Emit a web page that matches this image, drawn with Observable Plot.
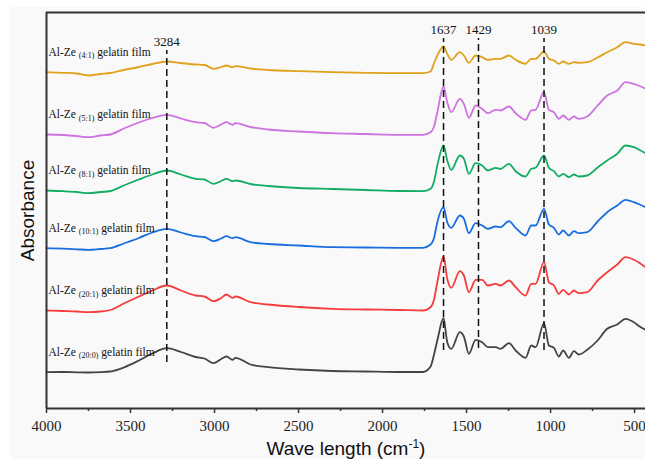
<!DOCTYPE html>
<html>
<head>
<meta charset="utf-8">
<script src="https://cdn.jsdelivr.net/npm/d3@7"></script>
<script src="https://cdn.jsdelivr.net/npm/@observablehq/plot@0.6"></script>
<style>
  html, body { margin: 0; padding: 0; background: #ffffff; }
  #wrap { position: relative; width: 645px; height: 459px; overflow: hidden; }
  #bg { position: absolute; left: 10px; top: 7px; right: 0; bottom: 0; background: #f9f9f9; }
  #chart { position: absolute; left: 0; top: 0; }
</style>
</head>
<body>
<div id="wrap"><div id="bg"></div><div id="chart"></div></div>
<script>
// ---- Data (absorbance, arbitrary units, series already offset as in the figure) ----
const waves = [4000, 3900, 3820, 3750, 3680, 3620, 3540, 3450, 3370, 3284, 3200, 3113, 3060, 3006, 2960, 2929, 2893, 2875, 2786, 2680, 2500, 2300, 2100, 1900, 1760,
  1714, 1695, 1674, 1637, 1615, 1591, 1540, 1516, 1486, 1446, 1407, 1373, 1327, 1298, 1248, 1208, 1149, 1115, 1089, 1039, 1010, 980, 951, 925, 891, 861, 832, 782, 720, 663, 603, 554, 504, 470, 435];

const film41 = [336.3, 335.7, 335.0, 333.0, 334.5, 335.5, 338.5, 341.5, 344.5, 347.0, 345.5, 344.0, 343.5, 339.7, 341.5, 343.0, 341.3, 342.3, 340.0, 338.5, 337.3, 336.3, 335.7, 335.3, 335.3,
  337.0, 344.7, 353.0, 362.0, 354.7, 348.7, 356.3, 353.0, 345.7, 353.0, 351.3, 348.7, 349.7, 349.7, 353.0, 348.7, 344.7, 349.7, 349.7, 357.0, 349.7, 348.0, 344.7, 347.0, 344.7, 346.3, 345.7, 346.3, 351.0, 356.3, 361.3, 366.3, 364.7, 364.0, 363.0];
const film51 = [274.0, 273.5, 272.5, 271.3, 273.0, 274.0, 280.0, 286.0, 290.5, 293.7, 290.0, 286.3, 285.5, 280.7, 284.0, 286.3, 283.7, 285.3, 281.5, 279.0, 277.0, 275.3, 274.5, 273.7, 273.7,
  276.3, 281.3, 296.3, 322.0, 306.3, 296.3, 309.7, 304.7, 290.7, 303.0, 299.7, 295.3, 298.7, 298.0, 302.0, 295.3, 288.7, 298.0, 298.7, 316.3, 298.7, 296.3, 289.7, 293.0, 288.7, 292.0, 289.7, 292.0, 303.0, 313.0, 318.0, 326.3, 324.7, 322.5, 319.7];
const film81 = [218.0, 217.3, 216.5, 215.3, 216.5, 217.5, 223.0, 229.0, 234.0, 238.0, 234.0, 229.7, 229.0, 224.7, 227.5, 229.7, 227.3, 228.0, 224.5, 222.5, 220.5, 219.5, 218.5, 217.5, 217.3,
  219.7, 226.3, 243.0, 263.0, 248.0, 238.7, 253.0, 249.7, 234.7, 245.3, 243.0, 238.0, 240.7, 239.7, 244.7, 237.3, 232.0, 239.7, 240.7, 253.0, 240.7, 237.3, 232.0, 234.7, 231.3, 234.0, 232.0, 233.0, 241.0, 248.0, 254.7, 263.0, 261.3, 258.5, 255.3];
const film101 = [160.3, 159.8, 159.2, 158.7, 159.5, 160.3, 165.0, 170.5, 176.0, 179.7, 176.0, 172.3, 171.5, 167.3, 170.0, 172.3, 170.3, 171.3, 166.3, 164.5, 163.0, 161.3, 161.0, 160.7, 160.7,
  164.0, 169.7, 186.3, 201.3, 186.3, 180.7, 193.0, 189.7, 175.3, 185.3, 183.0, 179.7, 182.0, 181.3, 187.3, 180.7, 173.0, 183.0, 183.0, 199.7, 184.0, 180.7, 174.0, 178.0, 173.0, 177.3, 175.3, 176.3, 187.0, 196.3, 203.0, 208.7, 206.3, 204.0, 201.3];
const film201 = [98.0, 97.5, 97.0, 96.3, 97.0, 98.5, 105.0, 112.0, 118.0, 123.0, 118.0, 113.0, 112.0, 107.3, 110.5, 114.0, 110.7, 112.0, 106.3, 104.0, 101.5, 99.7, 99.0, 98.5, 98.0,
  101.3, 108.0, 126.3, 152.0, 129.7, 120.7, 137.3, 133.0, 116.3, 128.7, 128.7, 123.0, 124.7, 123.0, 128.0, 121.3, 113.0, 124.7, 124.7, 146.3, 126.3, 123.0, 114.7, 118.7, 114.0, 118.0, 115.3, 116.3, 128.0, 136.3, 144.0, 151.3, 148.7, 145.5, 141.3];
const film200 = [36.3, 36.5, 36.2, 36.0, 36.3, 37.0, 41.0, 48.0, 55.0, 60.3, 56.5, 51.5, 50.0, 45.3, 49.5, 52.0, 48.7, 50.7, 44.0, 41.3, 39.0, 37.5, 37.0, 36.5, 36.5,
  42.0, 53.0, 68.0, 90.5, 66.3, 59.7, 76.3, 72.0, 54.7, 68.7, 66.3, 61.3, 61.3, 59.7, 65.3, 58.0, 50.7, 63.0, 61.3, 85.3, 63.0, 60.7, 52.0, 58.0, 50.7, 57.3, 54.0, 58.7, 68.0, 79.7, 84.0, 89.7, 86.3, 82.0, 78.7];

const seriesNames = ["Al-Ze (4:1) gelatin film", "Al-Ze (5:1) gelatin film", "Al-Ze (8:1) gelatin film", "Al-Ze (10:1) gelatin film", "Al-Ze (20:1) gelatin film", "Al-Ze (20:0) gelatin film"];
const seriesValues = [film41, film51, film81, film101, film201, film200];
const seriesColors = ["#e0a11c", "#cd72e0", "#12ad62", "#1a6ddf", "#f43c3c", "#444444"];

const peakWaves = [3284, 1637, 1429, 1039];
const peakTop = [358, 370, 370, 370];
const peakBottom = [46, 58, 60, 58];

const majorTicks = [4000, 3500, 3000, 2500, 2000, 1500, 1000, 500];
const minorTicks = [3750, 3250, 2750, 2250, 1750, 1250, 750];
const xDomain = [4000, 435];
const yDomain = [0, 396];
const xLabel = "Wave length (cm-1)";
const yLabel = "Absorbance";

// ---- Tables built from the arrays ----
const table = [];
seriesNames.forEach((name, i) => waves.forEach((w, j) => table.push({series: name, wave: w, value: seriesValues[i][j]})));
const firstPoints = seriesNames.map((name, i) => ({series: name, wave: waves[0], value: seriesValues[i][0]}));
const peaks = peakWaves.map((w, i) => ({wave: w, top: peakTop[i], bottom: peakBottom[i]}));

const serif = "'Liberation Serif', 'Times New Roman', serif";
const sans = "'Liberation Sans', Arial, sans-serif";

const chart = Plot.plot({
  width: 645,
  height: 459,
  marginLeft: 46,
  marginRight: 0,
  marginTop: 12,
  marginBottom: 51,
  style: {background: "transparent", color: "#222", overflow: "visible", fontFamily: serif},
  x: {domain: xDomain, axis: null},
  y: {domain: yDomain, axis: null},
  color: {domain: seriesNames, range: seriesColors},
  marks: [
    Plot.line(table, {x: "wave", y: "value", z: "series", stroke: "series", strokeWidth: 1.8, curve: "monotone-x"}),
    Plot.ruleX(peaks, {x: "wave", y1: "bottom", y2: "top", stroke: "#111", strokeWidth: 1.5, strokeDasharray: "7,4"}),
    Plot.text(peaks, {x: "wave", y: "top", text: d => String(d.wave), dy: -9, fontFamily: serif, fontSize: 13, fill: "#111"}),
    Plot.text(firstPoints, {x: "wave", y: "value", text: "series", dx: 2, dy: -20, textAnchor: "start", fontFamily: serif, fontSize: 11.5, fill: "#111"}),
    Plot.ruleX([xDomain[0]], {stroke: "#333", strokeWidth: 2}),
    Plot.ruleY(yDomain, {stroke: "#333", strokeWidth: 2}),
    Plot.axisX({ticks: majorTicks, tickSize: 5, tickPadding: 7, tickFormat: d => String(d), fontSize: 15, fontFamily: serif, stroke: "#333", strokeWidth: 1.5, label: null}),
    Plot.axisX({ticks: minorTicks, tickSize: 3, tickFormat: () => "", stroke: "#333", strokeWidth: 1.5, label: null}),
    Plot.text([xLabel], {frameAnchor: "bottom", textAnchor: "middle", lineAnchor: "middle", dy: 40, text: d => d, fontFamily: sans, fontSize: 19, fill: "#111"}),
    Plot.text([yLabel], {frameAnchor: "left", textAnchor: "middle", lineAnchor: "middle", dx: -19, rotate: -90, text: d => d, fontFamily: sans, fontSize: 19, fill: "#111"})
  ]
});

// Rich text: subscripts in series labels, superscript in the axis label, serif tick labels
const NS = "http://www.w3.org/2000/svg";
function tspan(parent, txt, attrs) {
  const t = document.createElementNS(NS, "tspan");
  t.textContent = txt;
  for (const k in attrs) t.setAttribute(k, attrs[k]);
  parent.appendChild(t);
}
const tickStrings = majorTicks.map(String);
chart.querySelectorAll("text").forEach(el => {
  if (el.children.length) return;
  const s = el.textContent;
  if (seriesNames.includes(s)) {
    const m = s.match(/^(\S+) (\(.*?\)) (.*)$/);
    el.textContent = "";
    tspan(el, m[1] + " ", {});
    tspan(el, m[2], {"font-size": 8, dy: 2.5});
    tspan(el, " " + m[3], {dy: -2.5});
  } else if (s === xLabel) {
    const m = s.match(/^(.*\(cm)(-1)(\))$/);
    el.textContent = "";
    tspan(el, m[1], {});
    tspan(el, m[2], {"font-size": 12, dy: -7});
    tspan(el, m[3], {dy: 7});
  } else if (tickStrings.includes(s)) {
    el.style.fontFamily = serif;
    el.style.fontSize = "15px";
  }
});

document.getElementById("chart").appendChild(chart);
</script>
</body>
</html>
